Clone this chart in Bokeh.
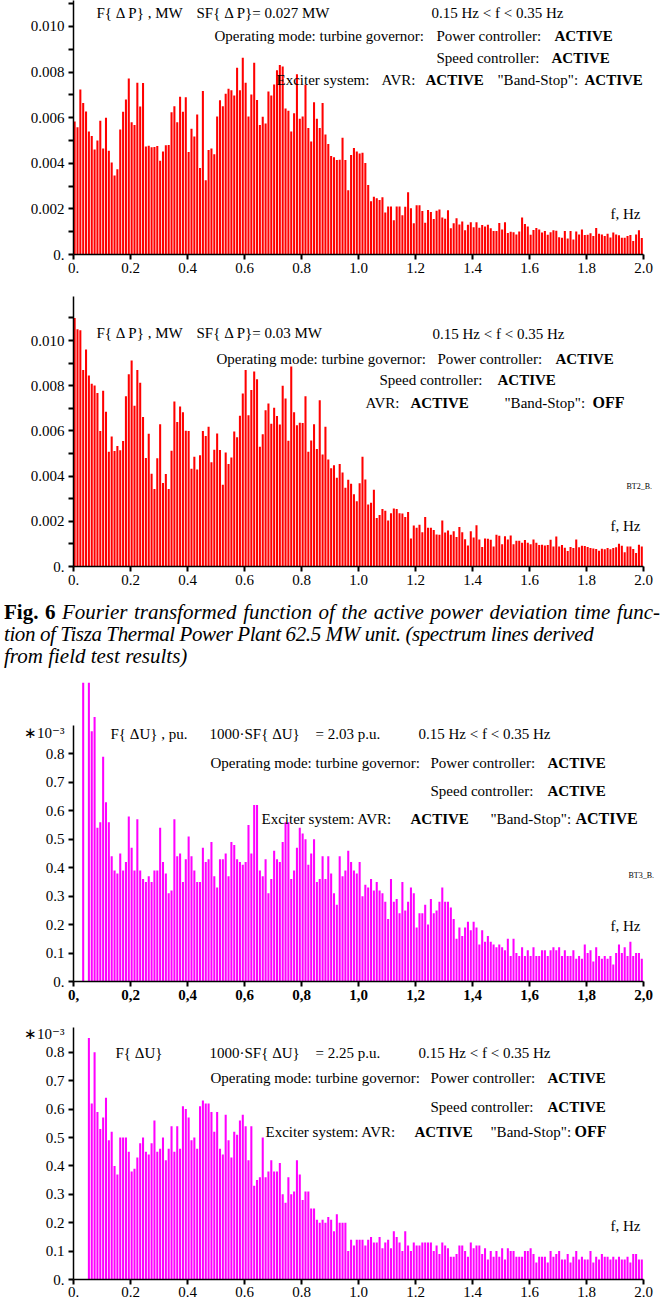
import numpy as np
from bokeh.plotting import figure
from bokeh.models import (ColumnDataSource, FixedTicker, CustomJSTickFormatter,
                          Label, Div, Range1d)
from bokeh.layouts import column
from bokeh.transform import dodge
from bokeh.embed import file_html
from bokeh.resources import INLINE

# ---------------- data ----------------
freq_hz = [round(0.01 * i, 2) for i in range(200)]
x_ticks = [0.0, 0.2, 0.4, 0.6, 0.8, 1.0, 1.2, 1.4, 1.6, 1.8, 2.0]

# F{dP}, 10^-3 MW, Band-Stop ACTIVE
dp_bandstop_on = [
    5.83, 5.58, 7.24, 6.65, 6.27, 5.39, 5.20, 4.60, 5.00, 5.87,
    4.65, 6.00, 4.55, 4.04, 3.47, 3.74, 5.48, 6.26, 6.80, 7.72,
    5.80, 5.68, 7.53, 6.49, 7.52, 4.74, 4.77, 4.70, 4.71, 4.76,
    4.11, 4.52, 4.79, 4.80, 6.24, 6.50, 5.80, 6.92, 6.26, 6.90,
    4.49, 5.52, 5.18, 6.14, 3.79, 7.17, 3.26, 4.58, 4.65, 4.40,
    6.05, 6.77, 6.50, 7.05, 7.27, 7.20, 6.97, 8.19, 7.20, 8.63,
    7.53, 6.05, 7.02, 8.41, 6.78, 5.68, 6.04, 5.74, 7.15, 6.97,
    7.46, 8.08, 8.31, 8.25, 6.40, 6.31, 5.40, 6.20, 7.90, 5.95,
    6.05, 7.44, 5.55, 4.96, 6.68, 5.95, 5.55, 6.65, 5.26, 4.85,
    4.32, 4.26, 4.14, 4.16, 5.12, 4.14, 2.82, 4.36, 4.67, 4.52,
    4.43, 4.46, 4.01, 3.05, 2.33, 2.53, 2.47, 2.39, 2.51, 1.84,
    2.10, 2.10, 1.50, 2.10, 2.10, 1.72, 2.09, 2.73, 2.03, 1.37,
    2.16, 2.16, 1.91, 1.39, 1.95, 1.86, 1.56, 1.92, 1.97, 1.62,
    1.57, 1.94, 1.15, 1.37, 1.59, 1.32, 1.45, 1.06, 1.31, 1.41,
    1.19, 1.41, 1.17, 1.29, 1.23, 1.31, 1.15, 1.03, 1.03, 1.38,
    1.10, 1.41, 0.94, 1.00, 0.98, 0.88, 1.01, 1.62, 1.34, 1.23,
    0.87, 1.07, 1.16, 1.10, 0.97, 1.03, 0.87, 0.98, 1.06, 1.04,
    0.76, 0.73, 1.03, 0.70, 1.03, 0.66, 1.01, 0.88, 1.10, 0.85,
    0.87, 0.93, 0.81, 1.16, 0.91, 0.88, 0.81, 0.91, 0.75, 0.97,
    0.88, 0.84, 0.73, 0.73, 0.81, 0.85, 0.59, 0.88, 1.06, 0.72,
]

# F{dP}, 10^-3 MW, Band-Stop OFF
dp_bandstop_off = [
    11.00, 10.50, 10.45, 8.69, 9.60, 8.45, 8.09, 8.01, 7.68, 6.00,
    7.78, 6.85, 5.08, 5.75, 5.11, 5.33, 5.14, 5.55, 7.53, 8.51,
    9.12, 7.11, 8.69, 8.13, 6.61, 4.80, 5.87, 4.10, 3.43, 4.79,
    6.29, 3.69, 4.09, 3.43, 5.12, 7.30, 6.39, 7.08, 6.83, 6.01,
    6.00, 4.32, 4.86, 4.29, 4.92, 6.00, 5.77, 6.18, 4.61, 5.17,
    5.88, 5.15, 3.62, 5.04, 4.54, 4.82, 5.97, 5.72, 6.67, 7.65,
    8.70, 6.69, 7.81, 8.63, 8.28, 5.30, 5.85, 6.91, 7.21, 6.32,
    7.02, 6.66, 6.28, 8.00, 7.43, 5.56, 8.85, 6.82, 6.25, 6.36,
    6.35, 7.53, 5.08, 5.58, 6.29, 5.20, 7.36, 4.96, 6.18, 4.74,
    4.35, 4.48, 3.93, 4.53, 4.16, 3.49, 3.84, 3.66, 3.20, 2.89,
    3.68, 4.86, 3.85, 2.74, 2.82, 3.40, 2.15, 2.28, 2.54, 2.47,
    2.04, 2.36, 2.57, 2.54, 2.36, 2.35, 2.19, 2.41, 1.24, 1.81,
    1.71, 1.85, 1.52, 2.19, 1.71, 1.71, 1.61, 1.42, 1.40, 2.03,
    1.50, 1.59, 1.40, 1.56, 1.30, 1.75, 1.52, 1.21, 0.93, 1.56,
    1.28, 1.82, 1.20, 0.86, 1.24, 1.23, 1.18, 0.88, 1.40, 1.36,
    0.99, 1.34, 1.20, 1.37, 0.98, 1.14, 1.14, 1.05, 1.17, 1.05,
    0.99, 1.20, 1.05, 0.95, 0.96, 0.93, 0.95, 1.18, 0.89, 1.33,
    0.89, 0.95, 0.83, 0.69, 0.86, 0.82, 1.20, 0.85, 0.92, 0.91,
    0.86, 0.82, 0.80, 0.77, 0.70, 0.79, 0.76, 0.82, 0.76, 0.82,
    0.85, 1.01, 0.92, 0.63, 0.88, 0.88, 0.77, 0.60, 0.96, 0.88,
]

# F{dU}, 10^-3 p.u., Band-Stop ACTIVE (first lines run above the frame)
du_bandstop_on = [
    0.00, 0.00, 0.00, 1.10, 0.00, 1.10, 0.88, 0.93, 0.54, 0.56,
    0.79, 0.63, 0.56, 0.44, 0.39, 0.38, 0.45, 0.39, 0.42, 0.58,
    0.47, 0.39, 0.57, 0.39, 0.36, 0.35, 0.37, 0.35, 0.39, 0.39,
    0.54, 0.42, 0.38, 0.31, 0.32, 0.57, 0.44, 0.45, 0.35, 0.43,
    0.51, 0.44, 0.39, 0.35, 0.35, 0.47, 0.42, 0.43, 0.49, 0.37,
    0.33, 0.43, 0.43, 0.45, 0.37, 0.49, 0.48, 0.43, 0.42, 0.41,
    0.42, 0.55, 0.45, 0.62, 0.62, 0.39, 0.37, 0.43, 0.31, 0.36,
    0.46, 0.43, 0.42, 0.49, 0.56, 0.56, 0.36, 0.39, 0.47, 0.54,
    0.52, 0.50, 0.41, 0.45, 0.50, 0.35, 0.36, 0.44, 0.36, 0.44,
    0.38, 0.31, 0.27, 0.44, 0.37, 0.39, 0.46, 0.42, 0.39, 0.38,
    0.42, 0.30, 0.34, 0.33, 0.36, 0.32, 0.35, 0.32, 0.31, 0.28,
    0.22, 0.36, 0.28, 0.29, 0.24, 0.35, 0.25, 0.28, 0.33, 0.31,
    0.19, 0.24, 0.24, 0.27, 0.20, 0.29, 0.24, 0.25, 0.28, 0.33,
    0.28, 0.28, 0.26, 0.22, 0.15, 0.19, 0.16, 0.19, 0.21, 0.18,
    0.21, 0.19, 0.13, 0.18, 0.14, 0.16, 0.14, 0.13, 0.12, 0.13,
    0.12, 0.11, 0.15, 0.09, 0.15, 0.10, 0.09, 0.12, 0.09, 0.11,
    0.09, 0.12, 0.09, 0.09, 0.11, 0.11, 0.09, 0.11, 0.12, 0.11,
    0.12, 0.09, 0.11, 0.09, 0.09, 0.11, 0.08, 0.09, 0.08, 0.13,
    0.10, 0.11, 0.07, 0.12, 0.09, 0.08, 0.09, 0.08, 0.09, 0.06,
    0.10, 0.13, 0.10, 0.12, 0.09, 0.14, 0.09, 0.10, 0.10, 0.08,
]

# F{dU}, 10^-3 p.u., Band-Stop OFF
du_bandstop_off = [
    0.00, 0.00, 0.00, 0.00, 0.00, 0.85, 0.62, 0.80, 0.59, 0.53,
    0.57, 0.64, 0.49, 0.52, 0.40, 0.37, 0.50, 0.50, 0.50, 0.45,
    0.38, 0.39, 0.43, 0.48, 0.50, 0.45, 0.44, 0.48, 0.56, 0.45,
    0.46, 0.50, 0.42, 0.46, 0.54, 0.45, 0.54, 0.46, 0.61, 0.60,
    0.57, 0.49, 0.50, 0.46, 0.61, 0.63, 0.62, 0.62, 0.59, 0.52,
    0.59, 0.46, 0.44, 0.58, 0.49, 0.43, 0.52, 0.51, 0.56, 0.58,
    0.54, 0.42, 0.54, 0.33, 0.35, 0.36, 0.50, 0.36, 0.38, 0.42,
    0.38, 0.38, 0.41, 0.30, 0.27, 0.36, 0.30, 0.31, 0.42, 0.37,
    0.28, 0.31, 0.31, 0.25, 0.25, 0.21, 0.20, 0.21, 0.20, 0.22,
    0.21, 0.17, 0.23, 0.20, 0.20, 0.20, 0.10, 0.14, 0.12, 0.14,
    0.14, 0.14, 0.12, 0.14, 0.15, 0.13, 0.13, 0.15, 0.11, 0.13,
    0.14, 0.11, 0.17, 0.15, 0.13, 0.10, 0.17, 0.12, 0.10, 0.13,
    0.12, 0.12, 0.13, 0.13, 0.13, 0.13, 0.10, 0.12, 0.09, 0.13,
    0.12, 0.11, 0.08, 0.08, 0.09, 0.12, 0.12, 0.10, 0.08, 0.13,
    0.11, 0.12, 0.12, 0.09, 0.11, 0.07, 0.10, 0.08, 0.10, 0.08,
    0.11, 0.07, 0.11, 0.10, 0.10, 0.08, 0.08, 0.08, 0.10, 0.10,
    0.11, 0.09, 0.06, 0.08, 0.08, 0.08, 0.06, 0.10, 0.08, 0.09,
    0.10, 0.07, 0.07, 0.09, 0.06, 0.08, 0.10, 0.07, 0.08, 0.07,
    0.07, 0.10, 0.06, 0.08, 0.07, 0.09, 0.08, 0.08, 0.07, 0.08,
    0.07, 0.08, 0.07, 0.07, 0.08, 0.06, 0.09, 0.09, 0.07, 0.07,
]

# ---------------- styling helpers ----------------
FONT = "Liberation Serif"
X0, PXHZ = 73, 285.0          # page x of f=0 and px per Hz
FRAME_RIGHT = 657              # frame reaches a little past f=2.0


def make_fig(h, top_b, bot_b, yend):
    xend = (FRAME_RIGHT - X0) / PXHZ
    p = figure(width=FRAME_RIGHT + 1, height=h, x_range=Range1d(0, xend),
               y_range=Range1d(0, yend), output_backend="svg", toolbar_location=None,
               min_border_left=X0, min_border_right=1,
               min_border_top=top_b, min_border_bottom=bot_b, margin=0)
    p.outline_line_color = None
    p.xgrid.visible = False
    p.ygrid.visible = False
    return p


def style_x(p, code, bold=False, tick_out=5, size="15px", standoff=3):
    ax = p.xaxis[0]
    ax.ticker = FixedTicker(ticks=x_ticks)
    ax.formatter = CustomJSTickFormatter(code=code)
    ax.bounds = (0, 2.0)
    ax.major_tick_out = tick_out
    ax.major_tick_in = 0
    ax.major_tick_line_width = 2
    ax.minor_tick_line_color = None
    ax.axis_line_width = 1.5
    ax.major_label_text_font = FONT
    ax.major_label_text_font_size = size
    ax.major_label_text_font_style = "bold" if bold else "normal"
    ax.major_label_text_color = "black"
    ax.major_label_standoff = standoff


def style_y(p, ticks, minor, code, bounds=None, hide_major_marks=False):
    ax = p.yaxis[0]
    ax.ticker = FixedTicker(ticks=ticks, minor_ticks=minor)
    ax.formatter = CustomJSTickFormatter(code=code)
    ax.major_tick_out = 5
    ax.major_tick_in = 0
    ax.major_tick_line_width = 2
    if hide_major_marks:
        ax.major_tick_line_color = None
    ax.minor_tick_out = 5
    ax.minor_tick_in = 0
    ax.minor_tick_line_width = 2
    ax.axis_line_width = 1.5
    ax.major_label_text_font = FONT
    ax.major_label_text_font_size = "15px"
    ax.major_label_text_color = "black"
    ax.major_label_standoff = 4
    if bounds is not None:
        ax.bounds = bounds


def put(p, g, px, py, text, bold=False, size=15, font=FONT):
    x = (px - X0) / PXHZ
    y = g["yend"] * (g["bottom"] - py) / (g["bottom"] - g["top"])
    p.add_layout(Label(x=x, y=y, text=text, text_font=font,
                       text_font_size=f"{size}px",
                       text_font_style="bold" if bold else "normal",
                       text_baseline="middle", text_align="left",
                       text_color="black"))


def bars(p, vals, color):
    src = ColumnDataSource(dict(f=freq_hz, v=vals))
    p.vbar(x=dodge("f", 0.004, range=p.x_range), top="v", width=0.0072,
           source=src, fill_color=color, line_color=None)


FMT_X = "return tick === 0 ? '0.' : tick.toFixed(1);"
FMT_X_COMMA = "return tick === 0 ? '0,' : tick.toFixed(1).replace('.', ',');"
FMT_Y_MW = "return tick === 0 ? '0.' : (tick / 1000).toFixed(3);"
FMT_Y_PU = ("if (tick > 0.85) { return '\u221710\u207b\u00b3'; } "
            "return tick === 0 ? '0.' : tick.toFixed(1);")
Y_MW = [0, 2, 4, 6, 8, 10]
Y_MW_MINOR = [1, 3, 5, 7, 9, 11]
Y_PU = [0.0, 0.1, 0.2, 0.3, 0.4, 0.5, 0.6, 0.7, 0.8]

# ---------------- panel 1 ----------------
G1 = dict(top=0, bottom=254, yend=11.14)
p1 = make_fig(282, 0, 28, G1["yend"])
bars(p1, dp_bandstop_on, "#ff0000")
style_x(p1, FMT_X)
style_y(p1, Y_MW, Y_MW_MINOR, FMT_Y_MW)
put(p1, G1, 96, 12, "F{ Δ P} , MW")
put(p1, G1, 196, 12, "SF{ Δ P}= 0.027 MW")
put(p1, G1, 431, 12, "0.15 Hz < f < 0.35 Hz")
put(p1, G1, 214, 35, "Operating mode: turbine governor:")
put(p1, G1, 436, 35, "Power controller:")
put(p1, G1, 554, 35, "ACTIVE", bold=True)
put(p1, G1, 436, 57, "Speed controller:")
put(p1, G1, 551, 57, "ACTIVE", bold=True)
put(p1, G1, 276, 79, "Exciter system:")
put(p1, G1, 381, 79, "AVR:")
put(p1, G1, 425, 79, "ACTIVE", bold=True)
put(p1, G1, 497, 79, "\"Band-Stop\":")
put(p1, G1, 584, 79, "ACTIVE", bold=True)
put(p1, G1, 610, 213, "f, Hz")

# ---------------- panel 2 ----------------
G2 = dict(top=296, bottom=566, yend=11.947)
p2 = make_fig(312, 14, 28, G2["yend"])
bars(p2, dp_bandstop_off, "#ff0000")
style_x(p2, FMT_X)
style_y(p2, Y_MW, Y_MW_MINOR, FMT_Y_MW)
put(p2, G2, 96, 332, "F{ Δ P} , MW")
put(p2, G2, 196, 332, "SF{ Δ P}= 0.03 MW")
put(p2, G2, 432, 333, "0.15 Hz < f < 0.35 Hz")
put(p2, G2, 216, 358, "Operating mode: turbine governor:")
put(p2, G2, 437, 358, "Power controller:")
put(p2, G2, 555, 358, "ACTIVE", bold=True)
put(p2, G2, 379, 379, "Speed controller:")
put(p2, G2, 497, 379, "ACTIVE", bold=True)
put(p2, G2, 365, 402, "AVR:")
put(p2, G2, 410, 402, "ACTIVE", bold=True)
put(p2, G2, 504, 402, "\"Band-Stop\":")
put(p2, G2, 592, 402, "OFF", bold=True, size=16)
put(p2, G2, 626, 486, "BT2_B.", size=8)
put(p2, G2, 610, 525, "f, Hz")

# ---------------- caption ----------------
CAP_STYLE = ("font-family:'Liberation Serif',serif;font-size:21px;line-height:22px;"
             "white-space:nowrap;color:#000;")
caption = Div(
    text=(f"<div style=\"{CAP_STYLE}padding-top:7px;padding-left:4px\">"
          "<div style=\"width:656px;text-align:justify;text-align-last:justify;white-space:normal\">"
          "<b>Fig. 6</b> <i>Fourier transformed function of the active power deviation time func-</i></div>"
          "<div style=\"letter-spacing:-0.4px\"><i>tion of Tisza Thermal Power Plant 62.5 MW unit. "
          "(spectrum lines derived</i></div>"
          "<div><i>from field test results)</i></div></div>"),
    width=FRAME_RIGHT + 1, height=88, margin=0)

# ---------------- panel 3 ----------------
STAR3 = 0.872   # tick position of the "*10^-3" scale note
G3 = dict(top=682, bottom=981, yend=1.051)
p3 = make_fig(327, 0, 28, G3["yend"])
bars(p3, du_bandstop_on, "#ff00ff")
style_x(p3, FMT_X_COMMA, bold=True)
style_y(p3, Y_PU + [STAR3], Y_PU, FMT_Y_PU, bounds=(0, 0.9), hide_major_marks=True)
put(p3, G3, 110, 733, "F{ ΔU} , pu.")
put(p3, G3, 209, 733, "1000·SF{ ΔU}")
put(p3, G3, 315, 733, "= 2.03 p.u.")
put(p3, G3, 418, 733, "0.15 Hz < f < 0.35 Hz")
put(p3, G3, 210, 762, "Operating mode: turbine governor:")
put(p3, G3, 430, 762, "Power controller:")
put(p3, G3, 547, 762, "ACTIVE", bold=True)
put(p3, G3, 430, 790, "Speed controller:")
put(p3, G3, 547, 790, "ACTIVE", bold=True)
put(p3, G3, 261, 818, "Exciter system: AVR:")
put(p3, G3, 410, 818, "ACTIVE", bold=True)
put(p3, G3, 490, 818, "\"Band-Stop\":")
put(p3, G3, 575, 818, "ACTIVE", bold=True, size=16)
put(p3, G3, 628, 875, "BT3_B.", size=8)
put(p3, G3, 610, 925, "f, Hz")

# ---------------- panel 4 ----------------
STAR4 = 0.866
G4 = dict(top=1019, bottom=1279, yend=0.9155)
p4 = make_fig(294, 10, 24, G4["yend"])
bars(p4, du_bandstop_off, "#ff00ff")
style_x(p4, FMT_X, tick_out=5, size="15px", standoff=2)
style_y(p4, Y_PU + [STAR4], Y_PU, FMT_Y_PU, bounds=(0, 0.887), hide_major_marks=True)
put(p4, G4, 115, 1052, "F{ ΔU}")
put(p4, G4, 209, 1052, "1000·SF{ ΔU}")
put(p4, G4, 315, 1052, "= 2.25 p.u.")
put(p4, G4, 418, 1052, "0.15 Hz < f < 0.35 Hz")
put(p4, G4, 210, 1077, "Operating mode: turbine governor:")
put(p4, G4, 430, 1077, "Power controller:")
put(p4, G4, 547, 1077, "ACTIVE", bold=True)
put(p4, G4, 430, 1106, "Speed controller:")
put(p4, G4, 547, 1106, "ACTIVE", bold=True)
put(p4, G4, 265, 1131, "Exciter system: AVR:")
put(p4, G4, 414, 1131, "ACTIVE", bold=True)
put(p4, G4, 490, 1131, "\"Band-Stop\":")
put(p4, G4, 574, 1131, "OFF", bold=True, size=16)
put(p4, G4, 610, 1225, "f, Hz")

layout = column(p1, p2, caption, p3, p4, spacing=0, margin=0)
open("out.html", "w").write(file_html(layout, INLINE, "Fig. 6"))
